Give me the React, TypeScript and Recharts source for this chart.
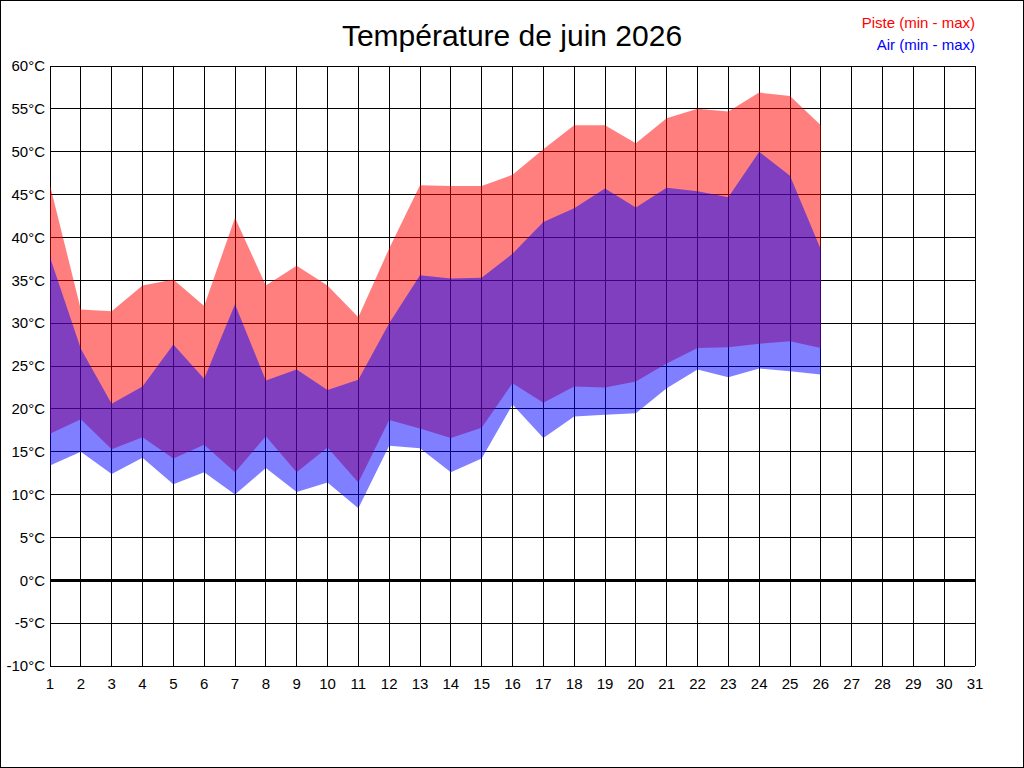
import { ComposedChart, Area, XAxis, YAxis, CartesianGrid, ReferenceLine } from 'recharts'

// jours du mois de juin (données jusqu'au 26)
const days = [1, 2, 3, 4, 5, 6, 7, 8, 9, 10, 11, 12, 13, 14, 15, 16, 17, 18, 19, 20, 21, 22, 23, 24, 25, 26]

const pisteMin = [17.1, 18.8, 15.3, 16.7, 14.2, 15.8, 12.6, 16.8, 12.6, 15.5, 11.4, 18.7, 17.7, 16.6, 17.8, 23.0, 20.7, 22.6, 22.5, 23.2, 25.3, 27.1, 27.2, 27.6, 27.9, 27.1]
const pisteMax = [46.1, 31.6, 31.4, 34.4, 35.1, 32.0, 42.3, 34.4, 36.7, 34.4, 30.7, 38.7, 46.1, 46.0, 46.0, 47.3, 50.3, 53.1, 53.1, 51.0, 53.9, 55.0, 54.7, 56.9, 56.5, 53.1]
const airMin = [13.4, 15.0, 12.4, 14.3, 11.2, 12.6, 10.0, 13.1, 10.3, 11.4, 8.4, 15.7, 15.4, 12.6, 14.2, 20.5, 16.6, 19.1, 19.3, 19.5, 22.4, 24.6, 23.7, 24.7, 24.4, 24.0]
const airMax = [37.7, 27.0, 20.6, 22.6, 27.5, 23.5, 32.2, 23.3, 24.6, 22.2, 23.4, 30.0, 35.6, 35.2, 35.3, 38.1, 41.8, 43.4, 45.7, 43.5, 45.8, 45.4, 44.7, 50.0, 47.2, 38.6]

const xTicks = Array.from({ length: 31 }, (_, i) => i + 1)
const yTicks = [-10, -5, 0, 5, 10, 15, 20, 25, 30, 35, 40, 45, 50, 55, 60]

const data = days.map((day, i) => ({
  day,
  piste: [pisteMin[i], pisteMax[i]],
  air: [airMin[i], airMax[i]],
}))

const font = 'Arial, "Liberation Sans", sans-serif'

export default function App() {
  return (
    <div style={{ width: 1024, height: 768, border: '1px solid #000', boxSizing: 'border-box', position: 'relative', background: '#fff', fontFamily: font }}>
      <style>{`body { margin: 0; }`}</style>
      <ComposedChart width={1024} height={768} data={data} margin={{ top: 66, right: 49, bottom: 72, left: 0 }} style={{ position: 'absolute', left: -1, top: -1 }}>
        <CartesianGrid stroke="#000" strokeWidth={1} shapeRendering="crispEdges" />
        <XAxis
          dataKey="day"
          type="number"
          domain={[1, 31]}
          ticks={xTicks}
          interval={0}
          axisLine={false}
          tickLine={false}
          tickSize={0}
          tickMargin={12}
          height={30}
          tick={{ fill: '#000', fontSize: 15, fontFamily: font }}
        />
        <YAxis
          type="number"
          domain={[-10, 60]}
          ticks={yTicks}
          interval={0}
          axisLine={false}
          tickLine={false}
          tickSize={0}
          tickMargin={5}
          width={50}
          tickFormatter={(v) => `${v}°C`}
          tick={{ fill: '#000', fontSize: 15, fontFamily: font }}
        />
        <ReferenceLine y={0} stroke="#000" strokeWidth={3} shapeRendering="crispEdges" />
        <Area dataKey="piste" type="linear" stroke="none" fill="#FF0000" fillOpacity={0.5} isAnimationActive={false} />
        <Area dataKey="air" type="linear" stroke="none" fill="#0000FF" fillOpacity={0.5} isAnimationActive={false} />
        <text x={512} y={46} textAnchor="middle" fontSize={30} fontFamily={font} fill="#000">
          Température de juin 2026
        </text>
        <text x={975} y={28} textAnchor="end" fontSize={15} fontFamily={font} fill="#FF0000">
          Piste (min - max)
        </text>
        <text x={975} y={50} textAnchor="end" fontSize={15} fontFamily={font} fill="#0000FF">
          Air (min - max)
        </text>
      </ComposedChart>
    </div>
  )
}
